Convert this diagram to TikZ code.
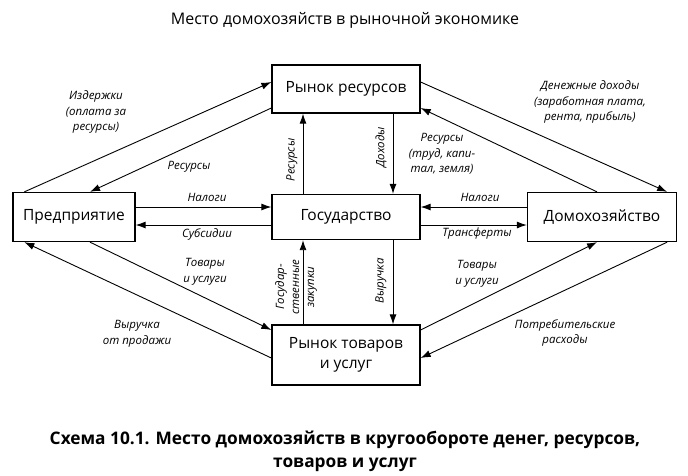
\documentclass[tikz,border=0pt]{standalone}
\usepackage{fontspec}
\setmainfont{Open Sans}
\usetikzlibrary{arrows.meta}

\begin{document}
\begin{tikzpicture}[x=1pt, y=-1pt]
	\tikzset{block/.style = {shape=rectangle, draw, line width=1.3pt, align=center, font=\fontsize{15.5}{20}\selectfont}}
	\tikzset{flow/.style = {-{Latex[length=10pt, width=7pt]}, line width=0.9pt}}
	\tikzset{lbl/.style = {align=center, inner sep=0pt, font=\itshape\fontsize{11.5}{15.5}\selectfont}}
	\useasboundingbox (0,0) rectangle (688,475);
	% title and caption
	\node (title) at (345,20) {\fontsize{16}{18}\selectfont Место домохозяйств в рыночной экономике};
	\node[align=center, font=\bfseries\fontsize{17.3}{23}\selectfont] (caption) at (345,451)
		{Схема 10.1. Место домохозяйств в кругообороте денег, ресурсов,\\товаров и услуг};
	% blocks
	\node[block, minimum width=148pt, minimum height=48pt] (res) at (346,89) {Рынок ресурсов};
	\node[block, minimum width=148pt, minimum height=45pt] (gov) at (346,217) {Государство};
	\node[block, minimum width=148pt, minimum height=60pt] (mkt) at (346,355) {Рынок товаров\\и услуг};
	\node[block, minimum width=122pt, minimum height=49pt] (firm) at (74,217) {Предприятие};
	\node[block, minimum width=149pt, minimum height=49pt] (hh) at (602,217) {Домохозяйство};
	% firm -- resources -- households
	\draw[flow] ([xshift=12pt]firm.north west) -- ([yshift=7pt]res.west);
	\draw[flow] ([yshift=-19pt]res.west) -- ([xshift=16pt]firm.north);
	\draw[flow] ([yshift=7pt]res.east) -- ([xshift=-10pt]hh.north east);
	\draw[flow] ([xshift=-5pt]hh.north) -- ([yshift=-19pt]res.east);
	% state
	\draw[flow] ([yshift=10pt]firm.east) -- ([yshift=10pt]gov.west);
	\draw[flow] ([yshift=-8pt]gov.west) -- ([yshift=-8pt]firm.east);
	\draw[flow] ([yshift=10pt]hh.west) -- ([yshift=10pt]gov.east);
	\draw[flow] ([yshift=-8pt]gov.east) -- ([yshift=-8pt]hh.west);
	\draw[flow] ([xshift=-43pt]gov.north) -- ([xshift=-43pt]res.south);
	\draw[flow] ([xshift=47pt]res.south) -- ([xshift=47pt]gov.north);
	\draw[flow] ([xshift=-43pt]mkt.north) -- ([xshift=-43pt]gov.south);
	\draw[flow] ([xshift=47pt]gov.south) -- ([xshift=47pt]mkt.north);
	% goods market
	\draw[flow] ([xshift=16pt]firm.south) -- ([yshift=25pt]mkt.west);
	\draw[flow] ([yshift=-3pt]mkt.west) -- ([xshift=12pt]firm.south west);
	\draw[flow] ([yshift=25pt]mkt.east) -- ([xshift=-5pt]hh.south);
	\draw[flow] ([xshift=-10pt]hh.south east) -- ([yshift=-3pt]mkt.east);
	% labels
	\node[lbl] (l-cost) at (96,112) {Издержки\\(оплата за\\ресурсы)};
	\node[lbl] (l-resf) at (189,167) {Ресурсы};
	\node[lbl] (l-inc) at (590,102) {Денежные доходы\\(заработная плата,\\рента, прибыль)};
	\node[lbl] (l-resh) at (442,154) {Ресурсы\\(труд, капи-\\тал, земля)};
	\node[lbl] (l-taxf) at (207,197) {Налоги};
	\node[lbl] (l-sub) at (207,234) {Субсидии};
	\node[lbl] (l-taxh) at (480,197) {Налоги};
	\node[lbl] (l-tr) at (477,234) {Трансферты};
	\node[lbl, rotate=90] (l-resg) at (292,160) {Ресурсы};
	\node[lbl, rotate=90] (l-incg) at (381,147) {Доходы};
	\node[lbl, rotate=90, font=\itshape\fontsize{11.5}{15}\selectfont] (l-buy) at (296,287) {Государ-\\ственные\\закупки};
	\node[lbl, rotate=90] (l-rev) at (381,281) {Выручка};
	\node[lbl] (l-gf) at (205,272) {Товары\\и услуги};
	\node[lbl] (l-revf) at (137,334) {Выручка\\от продажи};
	\node[lbl] (l-gh) at (477,274) {Товары\\и услуги};
	\node[lbl] (l-exp) at (565,333) {Потребительские\\расходы};
\end{tikzpicture}
\end{document}
